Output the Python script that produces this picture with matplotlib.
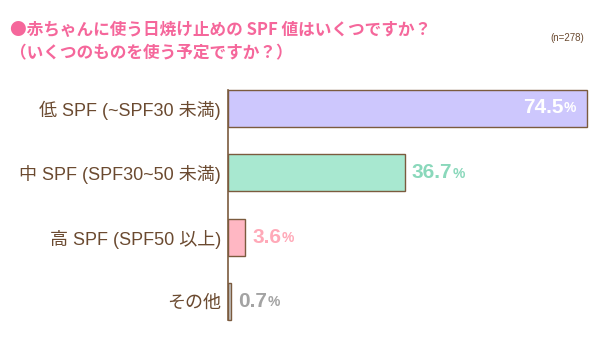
import matplotlib
matplotlib.use("Agg")
import matplotlib.pyplot as plt

plt.rcParams['font.family'] = ['Liberation Sans', 'Noto Sans CJK JP', 'DejaVu Sans']

categories = ["低 SPF (~SPF30 未満)", "中 SPF (SPF30~50 未満)", "高 SPF (SPF50 以上)", "その他"]
values = [74.5, 36.7, 3.6, 0.7]
value_labels = ["74.5", "36.7", "3.6", "0.7"]
bar_colors = ["#cdc7fd", "#a8e8d0", "#ffb7c3", "#c4c4c4"]
label_colors = ["#ffffff", "#8ad8bb", "#ffa9b8", "#a3a3a3"]
title1 = "●赤ちゃんに使う日焼け止めの SPF 値はいくつですか？"
title2 = "（いくつのものを使う予定ですか？）"
note = "(n=278)"

brown = "#7b5b3e"
W, H = 599, 363
fig = plt.figure(figsize=(W/100, H/100), dpi=100)
ax = fig.add_axes([228/W, 1-333.7/H, 364/W, (333.7-76.3)/H])

bh = 0.575
ypos = list(range(len(values)))
ax.barh(ypos, values, height=bh, color=bar_colors, edgecolor=brown, linewidth=1.0)
ax.set_xlim(0, 75.5)
ax.set_ylim(3.5, -0.5)
for s in ["top", "right", "bottom"]:
    ax.spines[s].set_visible(False)
ax.spines["left"].set_color(brown)
ax.spines["left"].set_linewidth(1.2)
ax.spines["left"].set_bounds(-bh/2, 3 + bh/2)
ax.set_xticks([])
ax.set_yticks(ypos)
ax.set_yticklabels(categories, fontsize=13, color="#6b4a30")
ax.tick_params(axis="y", length=0, pad=5)

num_font = dict(family=['Liberation Sans', 'DejaVu Sans'], fontweight="bold")
for i, (v, lab, c) in enumerate(zip(values, value_labels, label_colors)):
    if i == 0:
        pct = ax.annotate("%", xy=(v, i), xytext=(-8, 0), textcoords="offset points",
                          ha="right", va="center", fontsize=10, color=c, **num_font)
        ax.annotate(lab, xy=(0, 0.5), xycoords=pct, xytext=(0, 0.5), textcoords="offset points",
                    ha="right", va="center", fontsize=15, color=c, **num_font)
    else:
        num = ax.annotate(lab, xy=(v, i), xytext=(5, 0), textcoords="offset points",
                          ha="left", va="center", fontsize=15, color=c, **num_font)
        ax.annotate("%", xy=(1, 0.5), xycoords=num, xytext=(0.5, -0.5), textcoords="offset points",
                    ha="left", va="center", fontsize=10, color=c, **num_font)

title_font = dict(family=['Noto Sans CJK JP', 'DejaVu Sans'], fontweight="bold")
fig.text(10/W, 1-30/H, title1, fontsize=12, color="#f5679b", ha="left", va="center", **title_font)
fig.text(10/W, 1-53/H, title2, fontsize=12, color="#f5679b", ha="left", va="center", **title_font)
fig.text(584/W, 1-38/H, note, fontsize=7, color="#6b4a30", ha="right", va="center")

fig.savefig("out.png", dpi=100)
